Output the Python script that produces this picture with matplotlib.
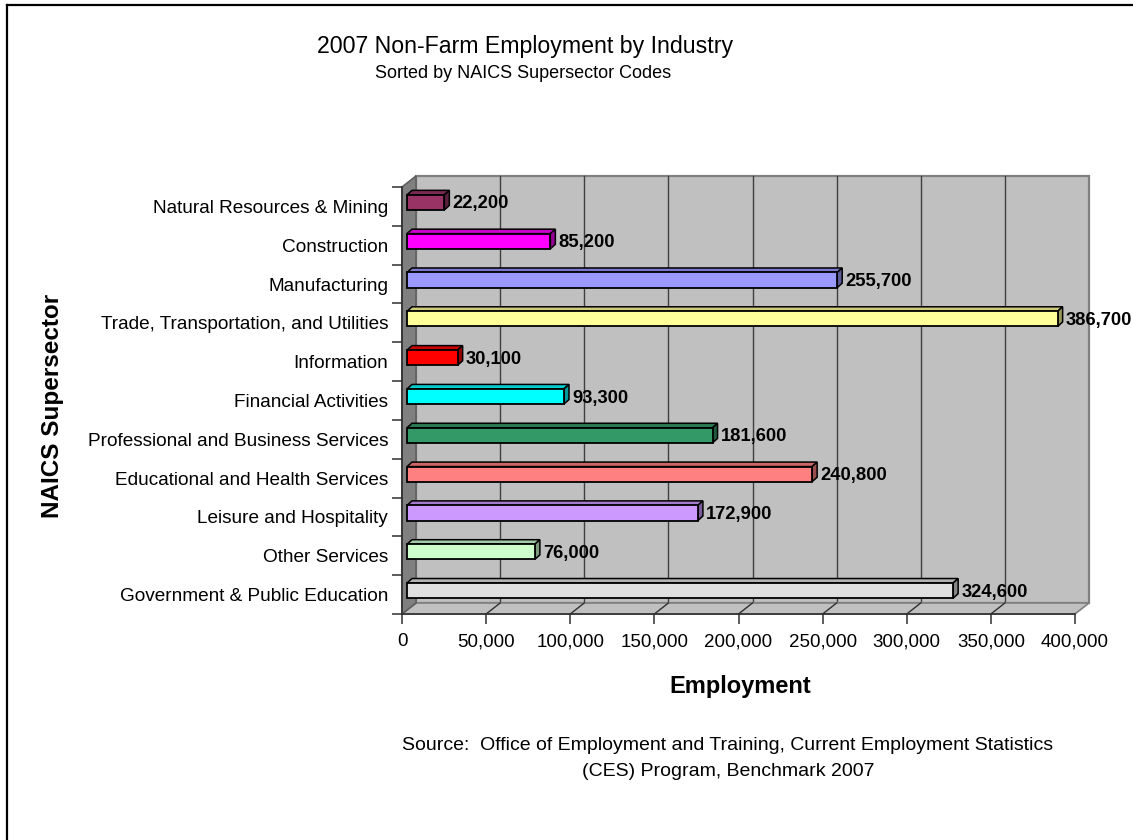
import matplotlib
matplotlib.use("Agg")
import matplotlib.pyplot as plt
import numpy as np
from matplotlib.patches import Polygon
from matplotlib.lines import Line2D
from matplotlib.colors import to_rgb
from matplotlib.transforms import ScaledTranslation

plt.rcParams['font.family'] = ['Liberation Sans', 'DejaVu Sans']

# ---- data -------------------------------------------------------------
industries = [
    "Natural Resources & Mining",
    "Construction",
    "Manufacturing",
    "Trade, Transportation, and Utilities",
    "Information",
    "Financial Activities",
    "Professional and Business Services",
    "Educational and Health Services",
    "Leisure and Hospitality",
    "Other Services",
    "Government & Public Education",
]
employment = [22200, 85200, 255700, 386700, 30100, 93300,
              181600, 240800, 172900, 76000, 324600]
bar_colors = ["#993366", "#FF00FF", "#9999FF", "#FFFF99", "#FF0000", "#00FFFF",
              "#339966", "#FF8080", "#CC99FF", "#CCFFCC", "#E0E0E0"]
x_ticks = list(range(0, 400001, 50000))

# ---- figure / axes ----------------------------------------------------
W, H, DPI = 1133, 840, 100
fig = plt.figure(figsize=(W / DPI, H / DPI), dpi=DPI)
fig.patch.set_facecolor("white")

ax = fig.add_axes([402 / W, 1 - 614 / H, (1075 - 402) / W, (614 - 187) / H])
n = len(industries)
ax.set_xlim(x_ticks[0], x_ticks[-1])
ax.set_ylim(n - 0.5, -0.5)
ax.patch.set_visible(False)

WALL = (14, 11)      # depth of the 3-D box, in pixels (right, up)
BAR_OFF = (5, 4)     # bar front face sits this far into the box
BAR_DEPTH = (5, 4.5) # thickness of each bar
BAR_H = 0.39


def shifted(x, y, dx=0.0, dy=0.0):
    px, py = ax.transData.transform((x, y))
    return ax.transData.inverted().transform((px + dx, py + dy))


def poly(pts, **kw):
    p = Polygon(pts, closed=True, clip_on=False, **kw)
    ax.add_patch(p)
    return p


xmin, xmax = x_ticks[0], x_ticks[-1]
ytop, ybot = -0.5, n - 0.5

# back wall
poly([shifted(xmin, ytop, *WALL), shifted(xmax, ytop, *WALL),
      shifted(xmax, ybot, *WALL), shifted(xmin, ybot, *WALL)],
     facecolor="#C0C0C0", edgecolor="#808080", linewidth=1.6, zorder=0)
# floor
poly([shifted(xmin, ybot), shifted(xmax, ybot),
      shifted(xmax, ybot, *WALL), shifted(xmin, ybot, *WALL)],
     facecolor="#C0C0C0", edgecolor="#808080", linewidth=1.2, zorder=0.5)
# side wall
poly([shifted(xmin, ytop), shifted(xmin, ybot),
      shifted(xmin, ybot, *WALL), shifted(xmin, ytop, *WALL)],
     facecolor="#808080", edgecolor="#606060", linewidth=1.2, zorder=0.6)

# gridlines on the back wall and their traces across the floor
for t in x_ticks[1:-1]:
    b0 = shifted(t, ybot, *WALL)
    b1 = shifted(t, ytop, *WALL)
    f0 = shifted(t, ybot)
    ax.add_line(Line2D([b0[0], b1[0]], [b0[1], b1[1]], color="#404040",
                       linewidth=1.0, zorder=0.3, clip_on=False))
    ax.add_line(Line2D([f0[0], b0[0]], [f0[1], b0[1]], color="#303030",
                       linewidth=1.0, zorder=0.7, clip_on=False))

# bars: front faces
bars = ax.barh(range(n), employment, height=BAR_H, color=bar_colors,
               edgecolor="black", linewidth=1.3, zorder=5)
front_shift = ScaledTranslation(BAR_OFF[0] / DPI, BAR_OFF[1] / DPI,
                                fig.dpi_scale_trans)
for p in bars:
    p.set_transform(ax.transData + front_shift)
    p.set_clip_on(False)

# bars: top and end faces
back = (BAR_OFF[0] + BAR_DEPTH[0], BAR_OFF[1] + BAR_DEPTH[1])
for i, (v, c) in enumerate(zip(employment, bar_colors)):
    rgb = np.array(to_rgb(c))
    yt, yb = i - BAR_H / 2, i + BAR_H / 2
    poly([shifted(0, yt, *BAR_OFF), shifted(v, yt, *BAR_OFF),
          shifted(v, yt, *back), shifted(0, yt, *back)],
         facecolor=rgb * 0.8, edgecolor="black", linewidth=1.1, zorder=4)
    poly([shifted(v, yt, *BAR_OFF), shifted(v, yb, *BAR_OFF),
          shifted(v, yb, *back), shifted(v, yt, *back)],
         facecolor=rgb * 0.6, edgecolor="black", linewidth=1.1, zorder=4)
    ax.annotate(f"{v:,}", xy=(v, i), xytext=(13, 2.5),
                textcoords="offset pixels", ha="left", va="center",
                fontsize=13.2, fontweight="bold", color="black",
                annotation_clip=False, zorder=6)

# axes styling
for s in ("top", "right"):
    ax.spines[s].set_visible(False)
for s in ("left", "bottom"):
    ax.spines[s].set_color("#303030")
    ax.spines[s].set_linewidth(1.2)
    ax.spines[s].set_zorder(1)

ax.set_yticks(range(n))
ax.set_yticklabels(industries, fontsize=13.7)
ax.set_yticks(np.arange(-0.5, n, 1.0), minor=True)
ax.tick_params(axis="y", which="major", length=0, pad=10)
ax.tick_params(axis="y", which="minor", length=7, width=1.1, color="#303030")

ax.set_xticks(x_ticks)
ax.set_xticklabels([f"{t:,}" for t in x_ticks], fontsize=13.5)
ax.tick_params(axis="x", which="major", length=7, width=1.1,
               color="#303030", pad=7)

# titles and notes
fig.text(525 / W, 1 - 46 / H, "2007 Non-Farm Employment by Industry",
         ha="center", va="center", fontsize=16.7)
fig.text(523 / W, 1 - 73 / H, "Sorted by NAICS Supersector Codes",
         ha="center", va="center", fontsize=13)
fig.text(740 / W, 1 - 687 / H, "Employment", ha="center", va="center",
         fontsize=17, fontweight="bold")
fig.text(53 / W, 1 - 406 / H, "NAICS Supersector", ha="center", va="center",
         rotation=90, fontsize=17.5, fontweight="bold")
fig.text(728 / W, 1 - 745 / H,
         "Source:  Office of Employment and Training, Current Employment Statistics",
         ha="center", va="center", fontsize=14)
fig.text(728 / W, 1 - 771 / H, "(CES) Program, Benchmark 2007",
         ha="center", va="center", fontsize=14)

# outer chart border (left and top edges visible)
fig.add_artist(Line2D([7 / W, 7 / W], [0, 1 - 5 / H], transform=fig.transFigure,
                      color="black", linewidth=1.6))
fig.add_artist(Line2D([7 / W, 1], [1 - 5 / H, 1 - 5 / H], transform=fig.transFigure,
                      color="black", linewidth=1.6))

fig.savefig("out.png", dpi=DPI)
